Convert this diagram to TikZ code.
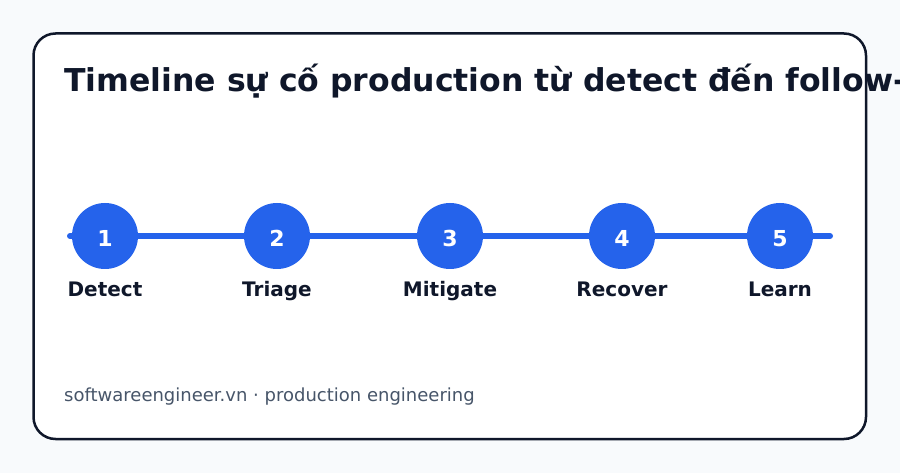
\documentclass[tikz,border=0pt]{standalone}
\usepackage{fontspec}
\setmainfont{DejaVu Sans}
\definecolor{bg}{HTML}{F8FAFC}
\definecolor{ink}{HTML}{0F172A}
\definecolor{blue}{HTML}{2563EB}
\definecolor{muted}{HTML}{475569}
\tikzset{
  stepdot/.style={circle, fill=blue, minimum size=66pt, inner sep=0pt},
  stepnum/.style={text=white, font=\fontsize{22}{22}\selectfont\bfseries, anchor=base, inner sep=0pt},
  steplabel/.style={text=ink, font=\fontsize{20}{20}\selectfont\bfseries, anchor=base, inner sep=0pt},
}
\begin{document}
\begin{tikzpicture}[x=1pt,y=-1pt]
\useasboundingbox (0,0) rectangle (900,473);
\fill[bg] (0,0) rectangle (900,473);
\draw[ink, line width=2.5pt, fill=white, rounded corners=22pt] (33.5,33.5) rectangle (866,439);
\node[anchor=base west, text=ink, font=\fontsize{31.5}{31.5}\selectfont\bfseries, inner sep=0pt] (title) at (64,92) {Timeline sự cố production từ detect đến follow-up};
\coordinate (ls) at (70,236);
\coordinate (le) at (830,236);
\draw[blue, line width=6pt, line cap=round] (ls) -- (le);
\foreach \i/\x/\t in {1/105/Detect,2/277/Triage,3/450/Mitigate,4/622/Recover,5/780/Learn}{
  \node[stepdot] (s\i) at (\x,236) {};
  \node[stepnum] (n\i) at (\x,247) {\i};
  \node[steplabel] (l\i) at (\x,297) {\t};
}
\node[anchor=base west, text=muted, font=\fontsize{18}{18}\selectfont, inner sep=0pt] (foot) at (64,401) {softwareengineer.vn · production engineering};
\end{tikzpicture}
\end{document}
